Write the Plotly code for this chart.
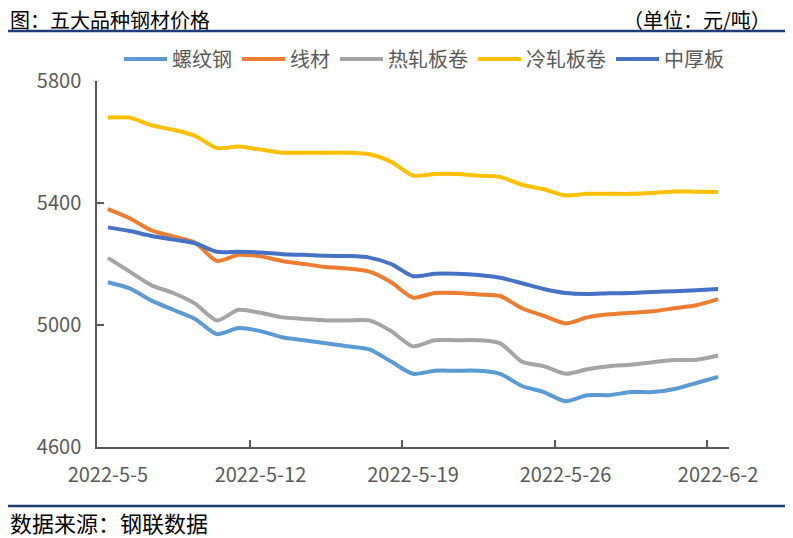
import plotly.graph_objects as go

dates = ["2022-05-05","2022-05-06","2022-05-07","2022-05-08","2022-05-09","2022-05-10","2022-05-11",
         "2022-05-12","2022-05-13","2022-05-14","2022-05-15","2022-05-16","2022-05-17","2022-05-18",
         "2022-05-19","2022-05-20","2022-05-21","2022-05-22","2022-05-23","2022-05-24","2022-05-25",
         "2022-05-26","2022-05-27","2022-05-28","2022-05-29","2022-05-30","2022-05-31","2022-06-01",
         "2022-06-02"]

rebar = [5140,5120,5080,5050,5020,4970,4990,4980,4960,4950,4940,4930,4920,4880,4840,4850,4850,4850,
         4840,4800,4780,4750,4770,4770,4780,4780,4790,4810,4830]
wire = [5380,5350,5310,5290,5270,5210,5230,5225,5210,5200,5190,5185,5175,5140,5090,5105,5105,5100,
        5095,5055,5030,5005,5025,5035,5040,5045,5055,5065,5085]
hot_rolled = [5220,5175,5130,5105,5070,5015,5050,5040,5025,5020,5015,5015,5015,4980,4930,4950,4950,
              4950,4940,4880,4865,4840,4855,4865,4870,4878,4885,4886,4900]
cold_rolled = [5680,5680,5655,5640,5620,5580,5585,5575,5565,5565,5565,5565,5560,5535,5490,5495,5495,
               5490,5485,5460,5445,5425,5430,5430,5430,5433,5438,5437,5436]
plate = [5320,5308,5292,5280,5268,5240,5240,5238,5232,5230,5227,5226,5221,5200,5160,5168,5168,5164,
         5155,5137,5118,5105,5102,5104,5105,5108,5111,5114,5118]

series_names = ["螺纹钢", "线材", "热轧板卷", "冷轧板卷", "中厚板"]
series_values = [rebar, wire, hot_rolled, cold_rolled, plate]
series_colors = ["#5B9BD5", "#ED7D31", "#A5A5A5", "#FFC000", "#4472C4"]

tick_dates = ["2022-05-05", "2022-05-12", "2022-05-19", "2022-05-26", "2022-06-02"]
tick_labels = ["2022-5-5", "2022-5-12", "2022-5-19", "2022-5-26", "2022-6-2"]
minor_tick_dates = ["2022-05-11 12:00", "2022-05-18 12:00", "2022-05-25 12:00", "2022-06-01 12:00"]
y_ticks = [4600, 5000, 5400, 5800]

FONT = "Noto Sans CJK SC"
GRAY = "#595959"
NAVY = "#1F3C7A"

# page offset of the figure (default body margin)
OFF = 8
PL, PT, PW, PH = 97, 81, 632, 366   # target plot box in page pixels


def px(x):
    return (x - PL) / PW


def py(y):
    return 1 - (y - PT) / PH


fig = go.Figure()
for name, vals, col in zip(series_names, series_values, series_colors):
    fig.add_trace(go.Scatter(x=dates, y=vals, name=name, mode="lines",
                             line=dict(color=col, width=4, shape="spline", smoothing=0.7)))

fig.update_layout(
    width=793 - OFF, height=538 - OFF,
    margin=dict(l=PL - OFF, r=793 - PL - PW, t=PT - OFF, b=538 - PT - PH, autoexpand=False),
    paper_bgcolor="white", plot_bgcolor="white",
    font=dict(family=FONT, color=GRAY),
    showlegend=True,
    legend=dict(orientation="h", x=px(424), xanchor="center", y=py(59), yanchor="middle",
                font=dict(size=20, color=GRAY, family=FONT), traceorder="normal",
                itemwidth=43, bgcolor="rgba(0,0,0,0)"),
    xaxis=dict(type="date", range=["2022-05-04 12:00", "2022-06-02 12:00"],
               tickmode="array", tickvals=tick_dates, ticktext=tick_labels,
               ticks="", showgrid=False, zeroline=False,
               showline=True, linecolor=GRAY, linewidth=1.5,
               tickfont=dict(size=20, color=GRAY, family=FONT), ticklabelstandoff=9,
               minor=dict(tickmode="array", tickvals=minor_tick_dates, ticks="inside",
                          ticklen=7, tickwidth=1.5, tickcolor=GRAY, showgrid=False)),
    yaxis=dict(range=[4600, 5800], tickmode="array", tickvals=y_ticks,
               ticks="inside", ticklen=7, tickwidth=1.5, tickcolor=GRAY,
               showgrid=False, zeroline=False, showline=True, linecolor=GRAY, linewidth=1.5,
               tickfont=dict(size=20, color=GRAY, family=FONT), ticklabelstandoff=10),
)

# title, unit and source
fig.add_annotation(text="图：五大品种钢材价格", xref="paper", yref="paper",
                   x=px(OFF), y=py(19.5), xanchor="left", yanchor="middle",
                   showarrow=False, font=dict(size=20, color="#000000", family=FONT))
fig.add_annotation(text="（单位：元/吨）", xref="paper", yref="paper",
                   x=px(773), y=py(19.5), xanchor="right", yanchor="middle",
                   showarrow=False, font=dict(size=20, color="#000000", family=FONT))
fig.add_annotation(text="数据来源：钢联数据", xref="paper", yref="paper",
                   x=px(OFF), y=py(522), xanchor="left", yanchor="middle",
                   showarrow=False, font=dict(size=22, color="#000000", family=FONT))
# separator lines
fig.add_shape(type="line", xref="paper", yref="paper", x0=px(0), x1=px(793),
              y0=py(31), y1=py(31), line=dict(color=NAVY, width=2.5))
fig.add_shape(type="line", xref="paper", yref="paper", x0=px(0), x1=px(793),
              y0=py(506), y1=py(506), line=dict(color=NAVY, width=2.5))

fig.write_html("out.html")
